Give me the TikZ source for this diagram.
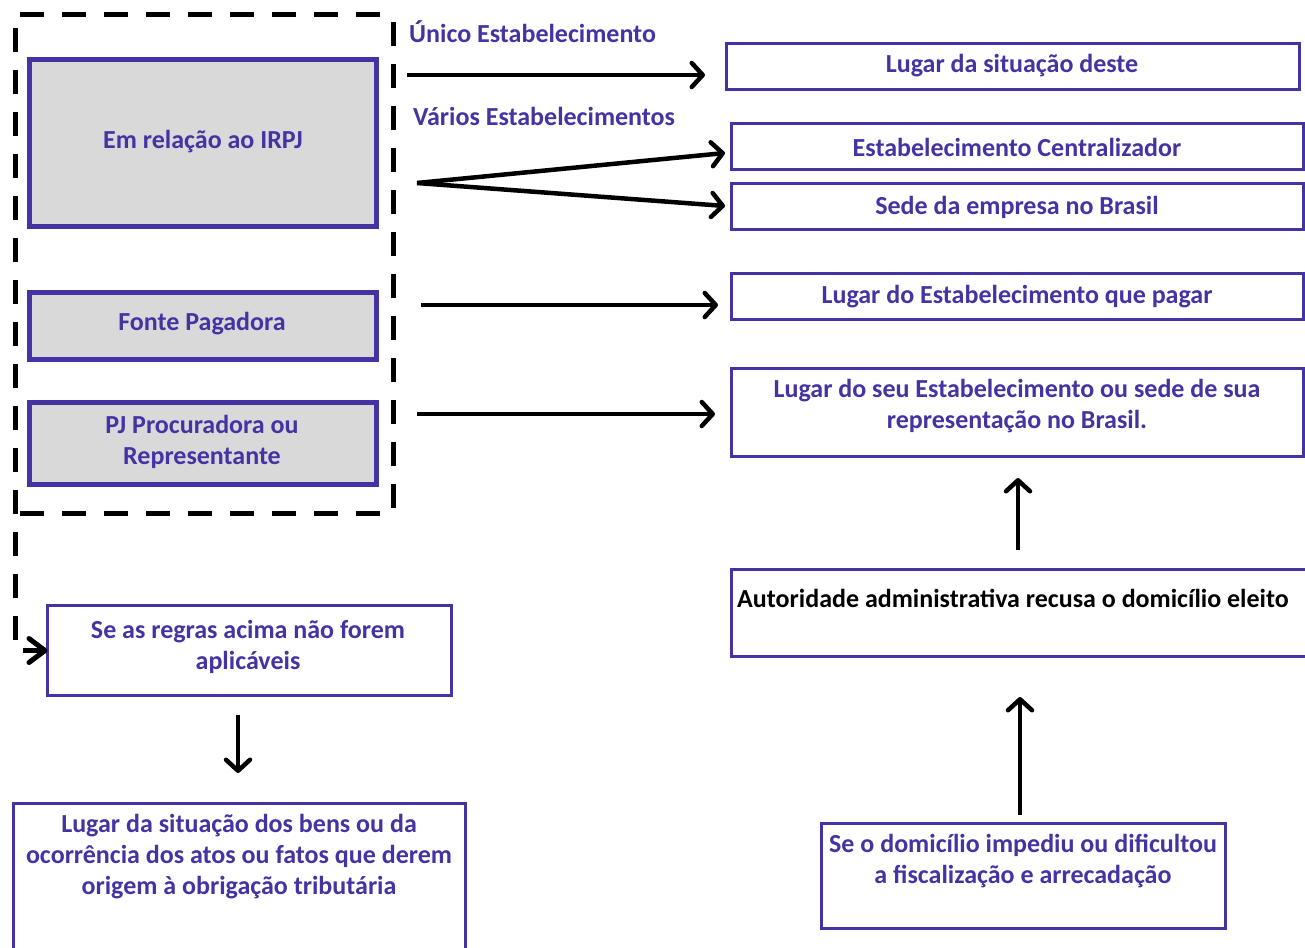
\documentclass[tikz,border=0pt]{standalone}
\usepackage{fontspec}
\setmainfont{Carlito}
\usetikzlibrary{arrows.meta}
\definecolor{pur}{RGB}{68,51,163}
\definecolor{gry}{RGB}{217,217,217}
\begin{document}
\begin{tikzpicture}[x=1pt,y=-1pt,
  graybox/.style={draw=pur, fill=gry, line width=5pt, inner sep=0pt, outer sep=0pt, anchor=north west},
  wbox/.style={draw=pur, line width=3.5pt, inner sep=0pt, outer sep=0pt, anchor=north west},
  lbl/.style={text=pur, font=\fontsize{26}{31}\selectfont\bfseries, align=center, inner sep=0pt, yshift=-2pt},
  arr/.style={line width=4.5pt, -{Straight Barb[length=11pt,width=24pt,line width=4.5pt,round]}},
  dsh/.style={line width=5pt, dash pattern=on 24pt off 18pt}]
\clip (0,0) rectangle (1305,947);
\fill[white] (0,0) rectangle (1305,947);

% grey boxes
\node[graybox, minimum width=347pt, minimum height=167pt] (irpj) at (29.5,59.5) {};
\node[graybox, minimum width=347pt, minimum height=67pt] (fonte) at (29.5,292.5) {};
\node[graybox, minimum width=347pt, minimum height=82pt] (pj) at (29.5,402.5) {};

% white boxes
\node[wbox, minimum width=573pt, minimum height=46pt] (b1) at (726.5,43.5) {};
\node[wbox, minimum width=572pt, minimum height=46pt] (b2) at (731.5,123.5) {};
\node[wbox, minimum width=572pt, minimum height=46pt] (b3) at (731.5,183.5) {};
\node[wbox, minimum width=572pt, minimum height=46pt] (b4) at (731.5,273.5) {};
\node[wbox, minimum width=572pt, minimum height=88pt] (b5) at (731.5,368.5) {};
\node[wbox, minimum width=600pt, minimum height=87pt] (b6) at (731.5,569.5) {};
\node[wbox, minimum width=404pt, minimum height=105pt] (b7) at (821.5,823.5) {};
\node[wbox, minimum width=404pt, minimum height=90pt] (regras) at (47.5,605.5) {};
\node[wbox, minimum width=452pt, minimum height=200pt] (bens) at (13.5,803.5) {};

% texts
\node[lbl] (tirpj) at (203,140) {Em relação ao IRPJ};
\node[lbl] (tfonte) at (202,322) {Fonte Pagadora};
\node[lbl] (tpj) at (202,439.5) {PJ Procuradora ou\\Representante};
\node[lbl, anchor=west] (tunico) at (409,30) {Único Estabelecimento};
\node[lbl, anchor=west] (tvarios) at (413,114) {Vários Estabelecimentos};
\node[lbl] (t1) at (1012,64) {Lugar da situação deste};
\node[lbl] (t2) at (1017,145) {Estabelecimento Centralizador};
\node[lbl] (t3) at (1017,205) {Sede da empresa no Brasil};
\node[lbl] (t4) at (1017,295) {Lugar do Estabelecimento que pagar};
\node[lbl] (t5) at (1017,404.5) {Lugar do seu Estabelecimento ou sede de sua\\representação no Brasil.};
\node[lbl, text=black, anchor=west] (t6) at (737,596) {Autoridade administrativa recusa o domicílio eleito};
\node[lbl] (t7) at (1023,859.5) {Se o domicílio impediu ou dificultou\\a fiscalização e arrecadação};
\node[lbl] (tregras) at (248,644.5) {Se as regras acima não forem\\aplicáveis};
\node[lbl] (tbens) at (239,855) {Lugar da situação dos bens ou da\\ocorrência dos atos ou fatos que derem\\origem à obrigação tributária};

% dashed frame
\draw[dsh] (20,15) -- (382,15);
\draw[dsh] (393,22) -- (393,508);
\draw[dsh] (20,513) -- (385,513);
\coordinate (dstart) at (15,28);
\draw[dsh, -{Straight Barb[length=16pt,width=24pt,line width=5pt,round]}] (dstart) |- (regras.west);

% arrows
\coordinate (s1) at (407,75);   \coordinate (e1) at (705,75);
\coordinate (s2) at (417,183);  \coordinate (e2) at (725,153); \coordinate (e3) at (725,206);
\coordinate (s4) at (421,305);  \coordinate (e4) at (718,305);
\coordinate (s5) at (417,414);  \coordinate (e5) at (715,414);
\coordinate (s6) at (1018,550); \coordinate (e6) at (1018,478);
\coordinate (s7) at (1020,815); \coordinate (e7) at (1020,697);
\coordinate (s8) at (238,715);  \coordinate (e8) at (238,773);
\draw[arr] (s1) -- (e1);
\draw[arr] (s2) -- (e2);
\draw[arr] (s2) -- (e3);
\draw[arr] (s4) -- (e4);
\draw[arr] (s5) -- (e5);
\draw[arr] (s6) -- (e6);
\draw[arr] (s7) -- (e7);
\draw[arr] (s8) -- (e8);
\end{tikzpicture}
\end{document}
